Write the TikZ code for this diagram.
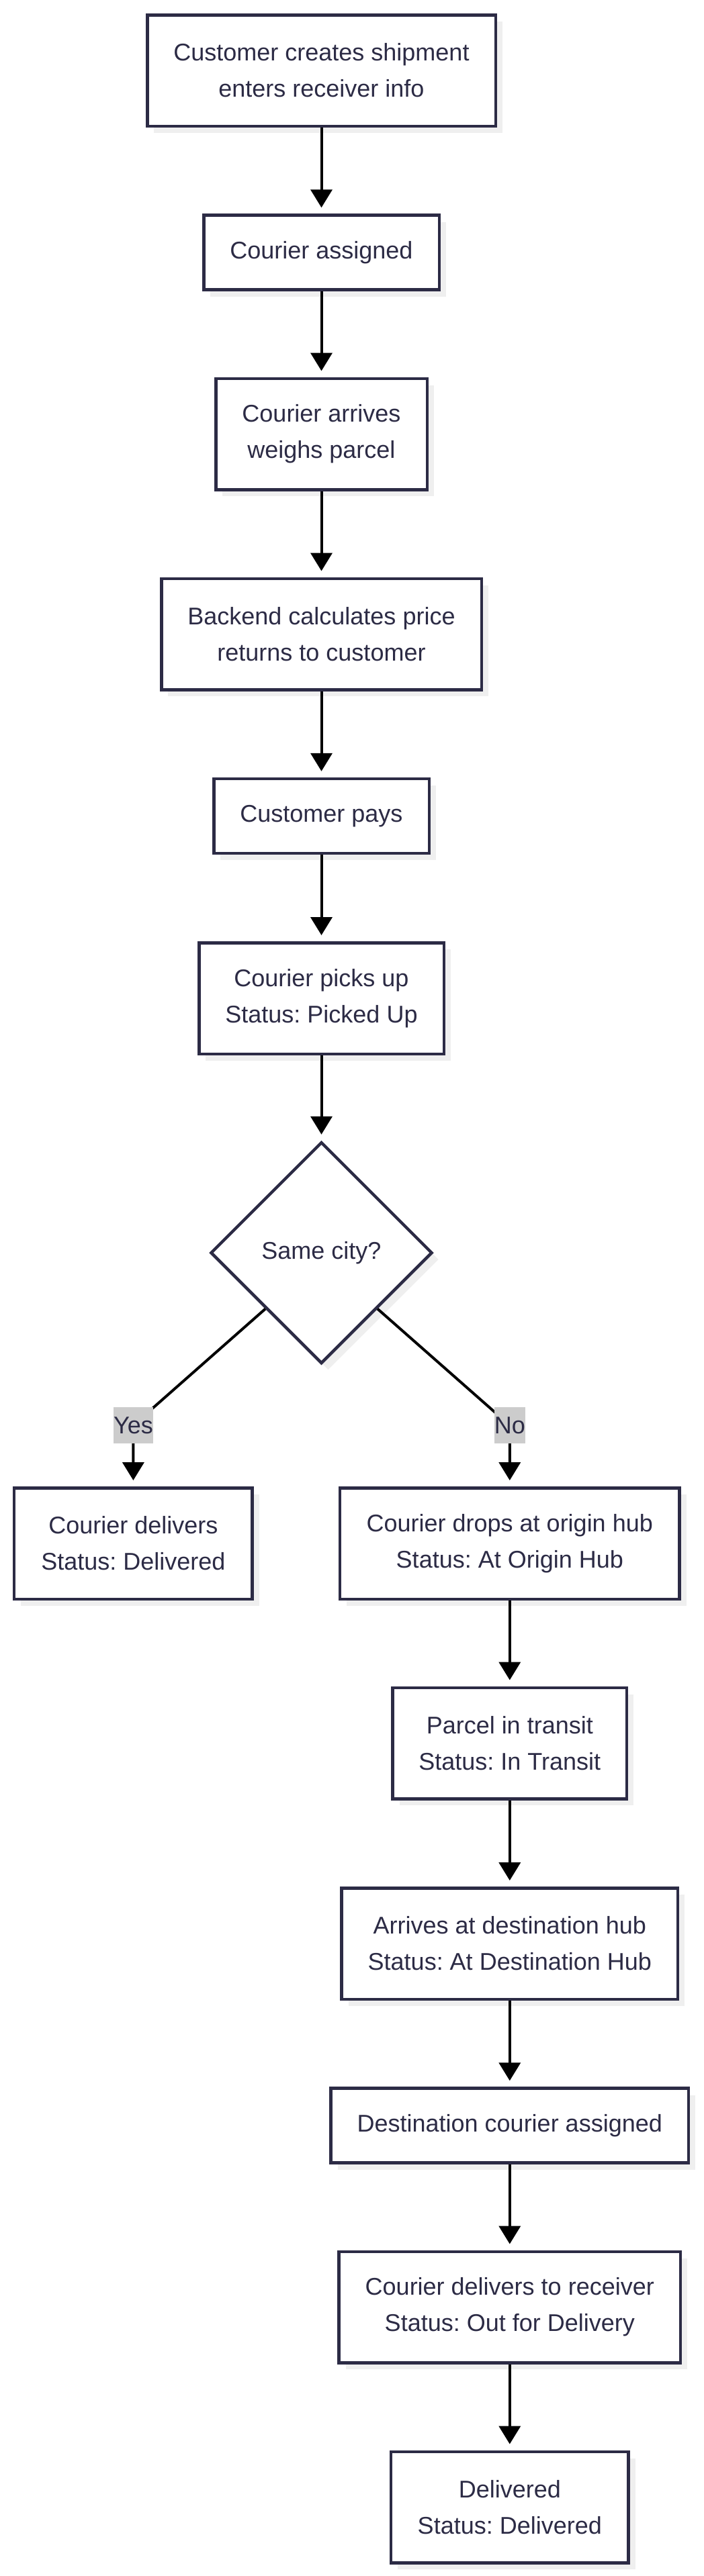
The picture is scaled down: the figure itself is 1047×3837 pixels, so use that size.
\documentclass[tikz,border=0pt]{standalone}
\usepackage{fontspec}
\setmainfont{Liberation Sans}
\usetikzlibrary{arrows.meta,shapes.geometric,shadows}
\definecolor{ink}{HTML}{2C2B45}
\definecolor{shadowc}{HTML}{EFEFEF}
\definecolor{lblbg}{HTML}{CCCCCC}
\tikzset{
  stepbox/.style={draw=ink, line width=4.5pt, fill=white, text=ink, align=center,
    inner sep=0pt, font=\fontsize{36}{54}\selectfont\frenchspacing,
    drop shadow={shadow xshift=10pt, shadow yshift=-10pt, fill=shadowc, opacity=1}},
  twoline/.style={stepbox, minimum height=165.5pt},
  oneline/.style={stepbox, minimum height=111pt},
  decision/.style={stepbox, shape=diamond, aspect=1, minimum width=330pt, minimum height=330pt},
  arr/.style={draw=black, line width=4pt, -{Triangle[length=27pt,width=32pt]}, shorten >=9pt},
  lbl/.style={fill=lblbg, text=ink, inner xsep=0pt, inner ysep=0pt, minimum height=54pt,
    font=\fontsize{36}{54}\selectfont}
}
\begin{document}
\begin{tikzpicture}[x=1pt,y=-1pt]
\useasboundingbox[fill=white] (0,0) rectangle (1047,3837);

\node[twoline, minimum width=518.5pt] (n1) at (478.5,105) {Customer creates shipment\\enters receiver info};
\node[oneline, minimum width=350.5pt] (n2) at (478.5,376) {Courier assigned};
\node[twoline, minimum width=314.5pt] (n3) at (478.5,646.5) {Courier arrives\\weighs parcel};
\node[twoline, minimum width=476.5pt] (n4) at (478.5,944.5) {Backend calculates price\\returns to customer};
\node[oneline, minimum width=320.5pt] (n5) at (478.5,1215.5) {Customer pays};
\node[twoline, minimum width=364.5pt] (n6) at (478.5,1487) {Courier picks up\\Status: Picked Up};
\node[decision] (d) at (478.5,1866) {Same city?};
\node[twoline, minimum width=354.5pt] (n7) at (198.4,2299) {Courier delivers\\Status: Delivered};
\node[twoline, minimum width=505.5pt] (n8) at (758.8,2299) {Courier drops at origin hub\\Status: At Origin Hub};
\node[twoline, minimum width=348.5pt] (n9) at (758.8,2596.5) {Parcel in transit\\Status: In Transit};
\node[twoline, minimum width=500.5pt] (n10) at (758.8,2895) {Arrives at destination hub\\Status: At Destination Hub};
\node[oneline, minimum width=532.5pt] (n11) at (758.8,3166) {Destination courier assigned};
\node[twoline, minimum width=508.5pt] (n12) at (758.8,3436.5) {Courier delivers to receiver\\Status: Out for Delivery};
\node[twoline, minimum width=353.5pt] (n13) at (758.8,3734.5) {Delivered\\Status: Delivered};

\draw[arr] (n1.south) -- (n2.north);
\draw[arr] (n2.south) -- (n3.north);
\draw[arr] (n3.south) -- (n4.north);
\draw[arr] (n4.south) -- (n5.north);
\draw[arr] (n5.south) -- (n6.north);
\draw[arr] (n6.south) -- (d.north);

\coordinate (yc) at (198.4,2123);
\coordinate (nc) at (758.8,2123);
\draw[arr] (d.south west) -- (yc) -- (n7.north);
\draw[arr] (d.south east) -- (nc) -- (n8.north);
\node[lbl] (yes) at (yc) {Yes};
\node[lbl] (no) at (nc) {No};

\draw[arr] (n8.south) -- (n9.north);
\draw[arr] (n9.south) -- (n10.north);
\draw[arr] (n10.south) -- (n11.north);
\draw[arr] (n11.south) -- (n12.north);
\draw[arr] (n12.south) -- (n13.north);
\end{tikzpicture}
\end{document}
